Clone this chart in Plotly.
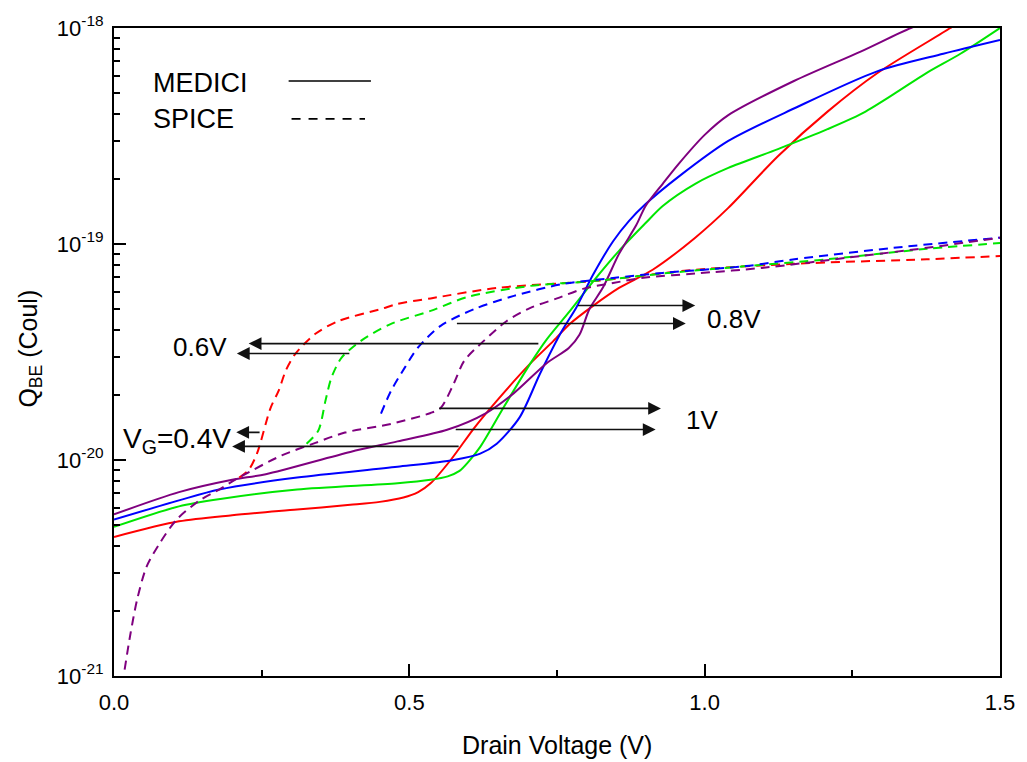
import numpy as np
import plotly.graph_objects as go

# ---------------- data ----------------
# MEDICI (solid)
red_m_v = [0.0, 0.11, 0.2, 0.31, 0.4, 0.45, 0.49, 0.515, 0.536, 0.57, 0.61, 0.648, 0.705, 0.744, 0.772, 0.811,
           0.855, 0.912, 0.984, 1.04, 1.124, 1.208, 1.292, 1.416, 1.45]
red_m_q = [4.4e-21, 5.2e-21, 5.55e-21, 5.9e-21, 6.2e-21, 6.4e-21, 6.7e-21, 7.1e-21, 7.8e-21, 1.0e-20, 1.41e-20,
           1.88e-20, 2.8e-20, 3.56e-20, 4.27e-20, 5.17e-20, 6.26e-20, 7.6e-20, 1.07e-19, 1.47e-19, 2.55e-19,
           4.1e-19, 6.17e-19, 1.0e-18, 1.15e-18]

green_m_v = [0.0, 0.11, 0.18, 0.31, 0.48, 0.536, 0.565, 0.585, 0.6, 0.62, 0.66, 0.705, 0.732, 0.772, 0.811,
             0.855, 0.9, 0.929, 0.984, 1.04, 1.124, 1.208, 1.265, 1.32, 1.376, 1.433, 1.5]
green_m_q = [4.9e-21, 6.1e-21, 6.6e-21, 7.3e-21, 7.8e-21, 8.1e-21, 8.4e-21, 8.9e-21, 9.8e-21, 1.15e-20, 1.76e-20,
             2.8e-20, 3.6e-20, 4.9e-20, 6.7e-20, 9.3e-20, 1.25e-19, 1.5e-19, 1.9e-19, 2.25e-19, 2.75e-19,
             3.4e-19, 4.0e-19, 4.94e-19, 6.2e-19, 7.6e-19, 1.0e-18]

blue_m_v = [0.0, 0.11, 0.178, 0.31, 0.48, 0.575, 0.62, 0.648, 0.687, 0.721, 0.757, 0.783, 0.811, 0.845, 0.872,
            0.9, 0.956, 1.04, 1.152, 1.292, 1.404, 1.5]
blue_m_q = [5.3e-21, 6.5e-21, 7.3e-21, 8.3e-21, 9.3e-21, 1.0e-20, 1.07e-20, 1.19e-20, 1.58e-20, 2.5e-20, 3.9e-20,
            5.1e-20, 7.2e-20, 1.03e-19, 1.28e-19, 1.53e-19, 2.05e-19, 3.0e-19, 4.25e-19, 6.3e-19, 7.6e-19, 8.8e-19]

purple_m_v = [0.0, 0.11, 0.2, 0.257, 0.4, 0.48, 0.564, 0.63, 0.677, 0.732, 0.77, 0.788, 0.805, 0.828, 0.855,
              0.884, 0.9, 0.929, 0.956, 1.0, 1.04, 1.152, 1.265, 1.349, 1.4]
purple_m_q = [5.6e-21, 7.1e-21, 8.1e-21, 8.6e-21, 1.09e-20, 1.22e-20, 1.38e-20, 1.65e-20, 2.04e-20, 2.8e-20,
              3.3e-20, 3.8e-20, 5.0e-20, 6.3e-20, 9.0e-20, 1.22e-19, 1.5e-19, 1.9e-19, 2.35e-19, 3.2e-19,
              3.95e-19, 5.7e-19, 7.8e-19, 1.0e-18, 1.12e-18]

# SPICE (dashed)
red_s_v = [0.212, 0.228, 0.242, 0.265, 0.279, 0.291, 0.307, 0.341, 0.38, 0.452, 0.48, 0.536, 0.648, 0.816,
           0.984, 1.152, 1.376, 1.5]
red_s_q = [8.3e-21, 9.0e-21, 1.07e-20, 1.74e-20, 2.1e-20, 2.6e-20, 3.1e-20, 3.84e-20, 4.4e-20, 5.0e-20,
           5.28e-20, 5.6e-20, 6.26e-20, 6.75e-20, 7.6e-20, 8.1e-20, 8.5e-20, 8.8e-20]

green_s_v = [0.326, 0.346, 0.358, 0.368, 0.385, 0.418, 0.469, 0.536, 0.6, 0.705, 0.816, 0.929, 1.07, 1.208,
             1.376, 1.5]
green_s_q = [1.19e-20, 1.37e-20, 1.88e-20, 2.4e-20, 2.97e-20, 3.56e-20, 4.27e-20, 4.9e-20, 5.7e-20, 6.4e-20,
             6.75e-20, 7.3e-20, 7.9e-20, 8.5e-20, 9.5e-20, 1.01e-19]

blue_s_v = [0.452, 0.469, 0.492, 0.514, 0.553, 0.61, 0.677, 0.76, 0.845, 0.929, 1.07, 1.152, 1.32, 1.5]
blue_s_q = [1.64e-20, 2.09e-20, 2.67e-20, 3.3e-20, 4.18e-20, 5.0e-20, 5.75e-20, 6.53e-20, 6.96e-20, 7.35e-20,
            7.9e-20, 8.5e-20, 9.6e-20, 1.07e-19]

purple_s_v = [0.018, 0.027, 0.039, 0.055, 0.077, 0.106, 0.145, 0.178, 0.212, 0.284, 0.341, 0.391, 0.469, 0.536,
              0.553, 0.575, 0.593, 0.626, 0.665, 0.705, 0.75, 0.794, 0.845, 0.9, 0.984, 1.097, 1.265, 1.376, 1.5]
purple_s_q = [1.07e-21, 1.52e-21, 2.25e-21, 3.2e-21, 4.1e-21, 5.3e-21, 6.5e-21, 7.3e-21, 8.3e-21, 1.05e-20,
              1.2e-20, 1.34e-20, 1.47e-20, 1.65e-20, 1.74e-20, 2.25e-20, 2.88e-20, 3.56e-20, 4.4e-20, 5.06e-20,
              5.6e-20, 6.2e-20, 6.6e-20, 7.0e-20, 7.3e-20, 7.75e-20, 8.8e-20, 9.6e-20, 1.07e-19]

x_tick_vals = [0.0, 0.5, 1.0, 1.5]
x_tick_text = ["0.0", "0.5", "1.0", "1.5"]
y_tick_vals = [1e-21, 1e-20, 1e-19, 1e-18]
y_tick_text = ["10<sup>-21</sup>", "10<sup>-20</sup>", "10<sup>-19</sup>", "10<sup>-18</sup>"]

# arrows: (tail V, tip V, Q level)
arrows = [
    (0.783, 0.984, 10 ** -19.285), (0.578, 0.968, 10 ** -19.368),   # 0.8V
    (0.721, 0.228, 10 ** -19.461), (0.401, 0.208, 10 ** -19.507),   # 0.6V
    (0.548, 0.926, 10 ** -19.761), (0.576, 0.917, 10 ** -19.859),   # 1V
    (0.249, 0.207, 10 ** -19.872), (0.586, 0.200, 10 ** -19.937),   # 0.4V
]
labels = [
    ("0.8V", 1.05, 10 ** -19.345, "center", 26),
    ("0.6V", 0.145, 10 ** -19.479, "center", 26),
    ("1V", 0.995, 10 ** -19.817, "center", 26),
    ("V<sub>G</sub>=0.4V", 0.2015, 10 ** -19.91, "right", 28),
]

RED, GREEN, BLUE, PURPLE = "#ff0000", "#00e600", "#0000ff", "#7f007f"
FONT = "Arial, Liberation Sans, sans-serif"

fig = go.Figure()
for v, q, c in [(red_m_v, red_m_q, RED), (green_m_v, green_m_q, GREEN),
                (blue_m_v, blue_m_q, BLUE), (purple_m_v, purple_m_q, PURPLE)]:
    fig.add_trace(go.Scatter(x=v, y=q, mode="lines", line=dict(color=c, width=2, shape="spline", smoothing=0.8),
                             showlegend=False, hoverinfo="skip"))
for v, q, c in [(red_s_v, red_s_q, RED), (green_s_v, green_s_q, GREEN),
                (blue_s_v, blue_s_q, BLUE), (purple_s_v, purple_s_q, PURPLE)]:
    fig.add_trace(go.Scatter(x=v, y=q, mode="lines",
                             line=dict(color=c, width=2, dash="9px,6px", shape="spline", smoothing=0.8),
                             showlegend=False, hoverinfo="skip"))

annotations = []
for tail, tip, q in arrows:
    annotations.append(dict(x=tip, y=np.log10(q), ax=tail, ay=np.log10(q), xref="x", yref="y",
                            axref="x", ayref="y", text="", showarrow=True, arrowhead=2,
                            arrowsize=1.6, arrowwidth=1.6, arrowcolor="#111111"))
for txt, xv, q, anc, sz in labels:
    annotations.append(dict(x=xv, y=np.log10(q), xref="x", yref="y", text=txt, showarrow=False,
                            xanchor=anc, yanchor="middle", font=dict(family=FONT, size=sz, color="black")))

# legend (text + sample lines)
annotations.append(dict(x=0.0415, y=0.9153, xref="paper", yref="paper", text="MEDICI", showarrow=False,
                        xanchor="left", yanchor="middle", font=dict(family=FONT, size=27, color="black")))
annotations.append(dict(x=0.0415, y=0.8598, xref="paper", yref="paper", text="SPICE", showarrow=False,
                        xanchor="left", yanchor="middle", font=dict(family=FONT, size=27, color="black")))
# axis titles
annotations.append(dict(x=0.5, y=-0.106, xref="paper", yref="paper", text="Drain Voltage (V)", showarrow=False,
                        xanchor="center", yanchor="middle", font=dict(family=FONT, size=25, color="black")))
annotations.append(dict(x=-0.095, y=0.505, xref="paper", yref="paper", text="Q<sub>BE</sub> (Coul)",
                        showarrow=False, textangle=-90, xanchor="center", yanchor="middle",
                        font=dict(family=FONT, size=25, color="black")))

shapes = [
    dict(type="line", xref="paper", yref="paper", x0=0.1971, x1=0.290, y0=0.9183, y1=0.9183,
         line=dict(color="black", width=1.6)),
    dict(type="line", xref="paper", yref="paper", x0=0.2004, x1=0.2833, y0=0.8598, y1=0.8598,
         line=dict(color="black", width=1.6, dash="9px,8px")),
]

y_minor = [m * 10.0 ** e for e in range(-21, -18) for m in range(2, 10)]

fig.update_layout(
    width=1027, height=762,
    margin=dict(l=114, r=16, t=27, b=86),
    paper_bgcolor="white", plot_bgcolor="white",
    font=dict(family=FONT, color="black"),
    annotations=annotations, shapes=shapes,
    xaxis=dict(range=[0, 1.5], tickmode="array", tickvals=x_tick_vals, ticktext=x_tick_text,
               ticks="inside", ticklen=12, tickwidth=2, tickcolor="black",
               showline=True, linewidth=2, linecolor="black", mirror=True, showgrid=False, zeroline=False,
               tickfont=dict(family=FONT, size=22, color="black"), ticklabelstandoff=6,
               minor=dict(tickvals=[0.25, 0.75, 1.25], ticks="inside", ticklen=6, tickwidth=2,
                          tickcolor="black", showgrid=False)),
    yaxis=dict(type="log", range=[-21, -18], tickmode="array", tickvals=y_tick_vals, ticktext=y_tick_text,
               ticks="inside", ticklen=12, tickwidth=2, tickcolor="black",
               showline=True, linewidth=2, linecolor="black", mirror=True, showgrid=False, zeroline=False,
               tickfont=dict(family=FONT, size=22, color="black"), ticklabelstandoff=4,
               minor=dict(tickvals=y_minor, ticks="inside", ticklen=6, tickwidth=2,
                          tickcolor="black", showgrid=False)),
)

fig.write_html("out.html")
